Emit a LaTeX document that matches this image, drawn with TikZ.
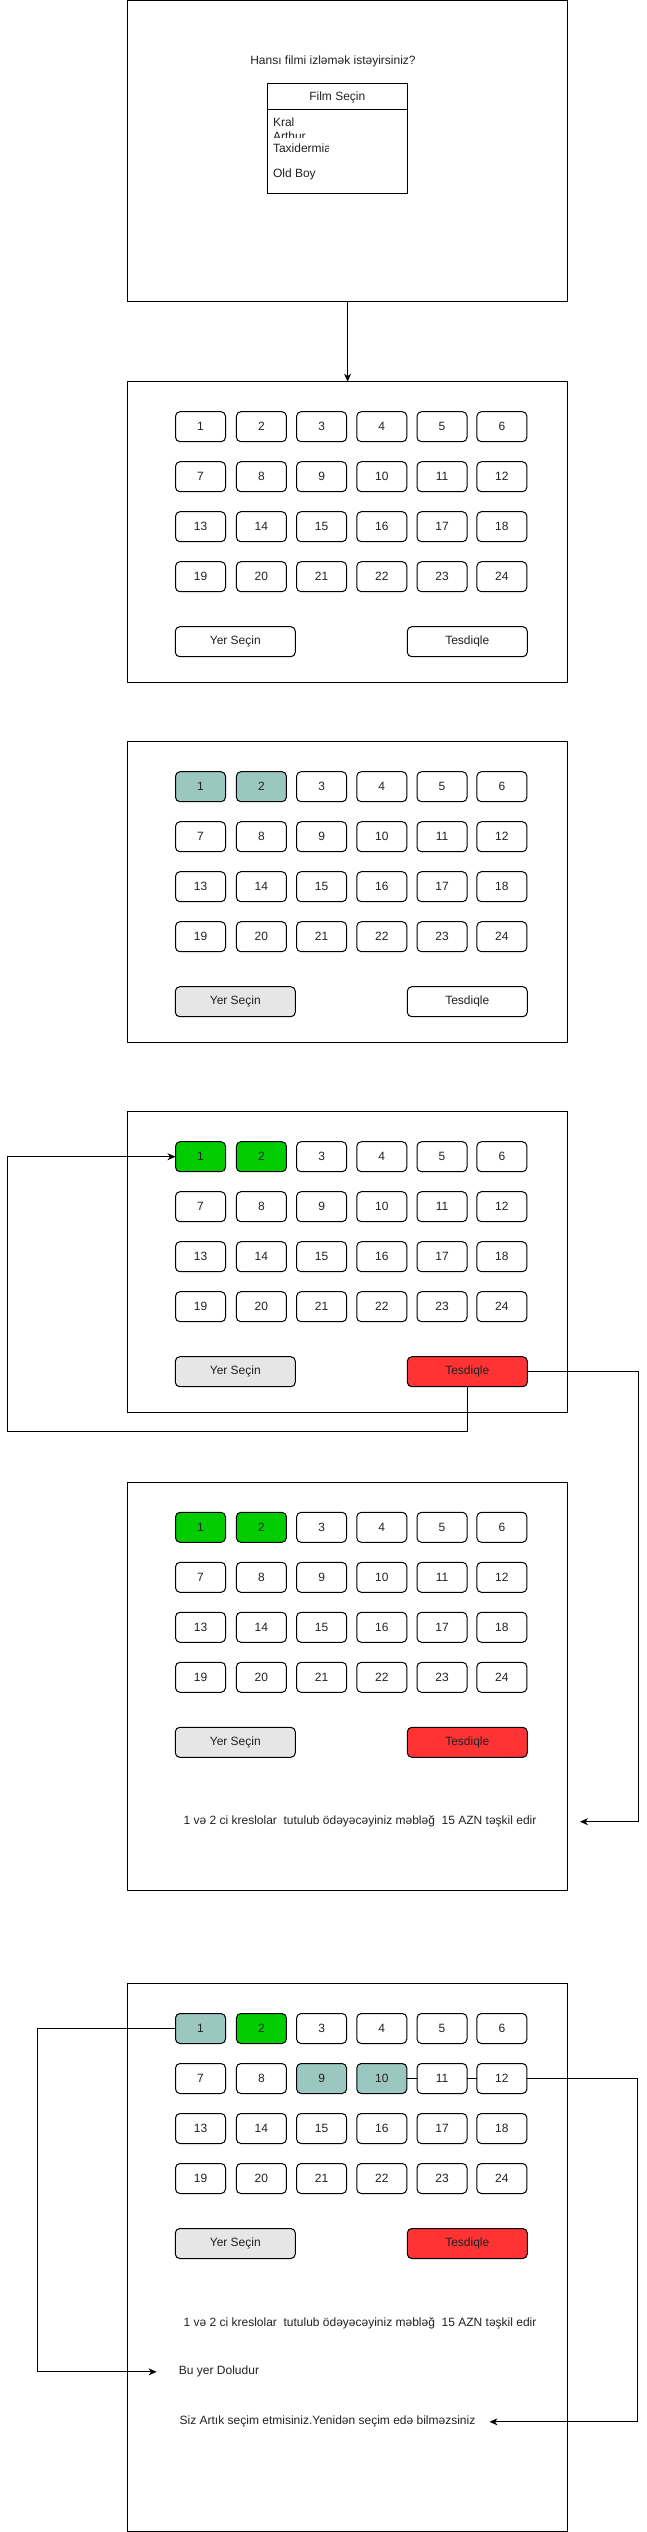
\documentclass[tikz,border=0pt]{standalone}
\usepackage{fontspec}
\setmainfont{Liberation Sans}
\usetikzlibrary{arrows.meta}
\definecolor{selgreen}{HTML}{00CC00}
\definecolor{selteal}{HTML}{9AC7BF}
\definecolor{btngrey}{HTML}{E6E6E6}
\definecolor{btnred}{HTML}{FF3333}
\definecolor{txt}{HTML}{222222}
\tikzset{
 base/.style={font=\fontsize{12}{14}\selectfont, text=txt},
 panel/.style={draw, line width=1pt, inner sep=0pt, outer sep=0pt, minimum width=440.2pt},
 seat/.style={base, draw, line width=1pt, rounded corners=4.5pt, minimum width=50pt, minimum height=30pt, inner sep=0pt, outer sep=0pt},
 btn/.style={seat, minimum width=120pt},
 lbl/.style={base, inner sep=0pt, outer sep=0pt},
 arr/.style={line width=1pt, -{Stealth[length=8pt,width=7pt,inset=2.5pt]}},
 link/.style={line width=1pt},
}
\newcommand\setseat[3]{\expandafter\def\csname sf-#1-#2\endcsname{#3}}
\newcommand\seatgrid[2]{%
 \foreach \n in {1,...,24}{%
  \pgfmathtruncatemacro\rr{(\n-1)/6}%
  \pgfmathtruncatemacro\cc{mod(\n-1,6)}%
  \pgfmathsetmacro\xx{{200.5,261.4,321.6,381.8,442,501.9}[\cc]}%
  \pgfmathsetmacro\yy{#2+45+50*\rr}%
  \ifcsname sf-#1-\n\endcsname \edef\sfc{\csname sf-#1-\n\endcsname}\else\def\sfc{white}\fi
  \node[seat, fill=\sfc] (#1s\n) at (\xx,\yy) {\n};
 }}
\newcommand\btnrow[4]{%
 \node[btn, fill=#3] (#1yer) at (235.3,#2+260) {Yer Seçin};
 \node[btn, fill=#4] (#1tes) at (467.3,#2+260) {Tesdiqle};}
\begin{document}
\begin{tikzpicture}[x=1pt,y=-1pt]
\useasboundingbox (0,0) rectangle (646,2532);
\fill[white] (0,0) rectangle (646,2532);
% panel 1
\node[panel, minimum height=301pt] (p1) at (347.6,151.2) {};
\node[lbl] (q1) at (333,61) {Hansı filmi izləmək istəyirsiniz?};
\node[draw, line width=1pt, inner sep=0pt, outer sep=0pt, minimum width=140pt, minimum height=110pt] (film) at (337.3,138.3) {};
\node[lbl] (filmh) at (337.3,97.7) {Film Seçin};
\draw[line width=1pt] (267.3,109.3) -- (407.3,109.3);
\node[lbl, anchor=base west] (kral) at (273,126) {Kral};
\begin{scope}
\clip (268,110) rectangle (406,137.7);
\node[lbl, anchor=base west] (arthur) at (273,140) {Arthur};
\end{scope}
\begin{scope}
\clip (268,138) rectangle (328,160);
\node[lbl, anchor=base west] (taxi) at (273,152.7) {Taxidermia};
\end{scope}
\node[lbl, anchor=base west] (oldboy) at (273,177.7) {Old Boy};
% panel 2
\node[panel, minimum height=300.6pt] (p2) at (347.6,532) {};
\seatgrid{p2}{381.7}
\btnrow{p2}{381.7}{white}{white}
% panel 3
\setseat{p3}{1}{selteal}\setseat{p3}{2}{selteal}
\node[panel, minimum height=300.6pt] (p3) at (347.6,892) {};
\seatgrid{p3}{741.7}
\btnrow{p3}{741.7}{btngrey}{white}
% panel 4
\setseat{p4}{1}{selgreen}\setseat{p4}{2}{selgreen}
\node[panel, minimum height=300.6pt] (p4) at (347.6,1262) {};
\seatgrid{p4}{1111.7}
\btnrow{p4}{1111.7}{btngrey}{btnred}
% panel 5
\setseat{p5}{1}{selgreen}\setseat{p5}{2}{selgreen}
\node[panel, minimum height=407.7pt] (p5) at (347.6,1686.15) {};
\seatgrid{p5}{1482.3}
\btnrow{p5}{1482.3}{btngrey}{btnred}
\node[lbl, minimum width=440pt] (p5txt) at (360,1821.7) {1 və 2 ci kreslolar\ \ tutulub ödəyəcəyiniz məbləğ\ \ 15 AZN təşkil edir};
% panel 6
\setseat{p6}{1}{selteal}\setseat{p6}{2}{selgreen}\setseat{p6}{9}{selteal}\setseat{p6}{10}{selteal}
\node[panel, minimum height=547.5pt] (p6) at (347.6,2257.25) {};
\seatgrid{p6}{1983.5}
\btnrow{p6}{1983.5}{btngrey}{btnred}
\node[lbl, minimum width=440pt] (p6txt) at (360,2322.9) {1 və 2 ci kreslolar\ \ tutulub ödəyəcəyiniz məbləğ\ \ 15 AZN təşkil edir};
\node[lbl, minimum width=124.8pt] (bu) at (219,2371.8) {Bu yer Doludur};
\node[lbl, minimum width=324pt] (siz) at (327.5,2421.8) {Siz Artık seçim etmisiniz.Yenidən seçim edə bilməzsiniz};
% connectors
\draw[arr] (p1.south) -- (p2.north);
\coordinate (lb) at (7.5,1431);
\draw[arr] (p4tes.south) |- (lb) |- (p4s1.west);
\coordinate (rk) at (638.6,1371.7);
\draw[arr] (p4tes.east) -- (rk) |- (p5txt.east);
\coordinate (lk) at (37.5,2028.5);
\draw[arr] (p6s1.west) -- (lk) |- (bu.west);
\coordinate (rk6) at (637.8,2078.5);
\draw[arr] (p6s12.east) -- (rk6) |- (siz.east);
\draw[link] (p6s10.east) -- (p6s11.west);
\draw[link] (p6s11.east) -- (p6s12.west);
\end{tikzpicture}
\end{document}
